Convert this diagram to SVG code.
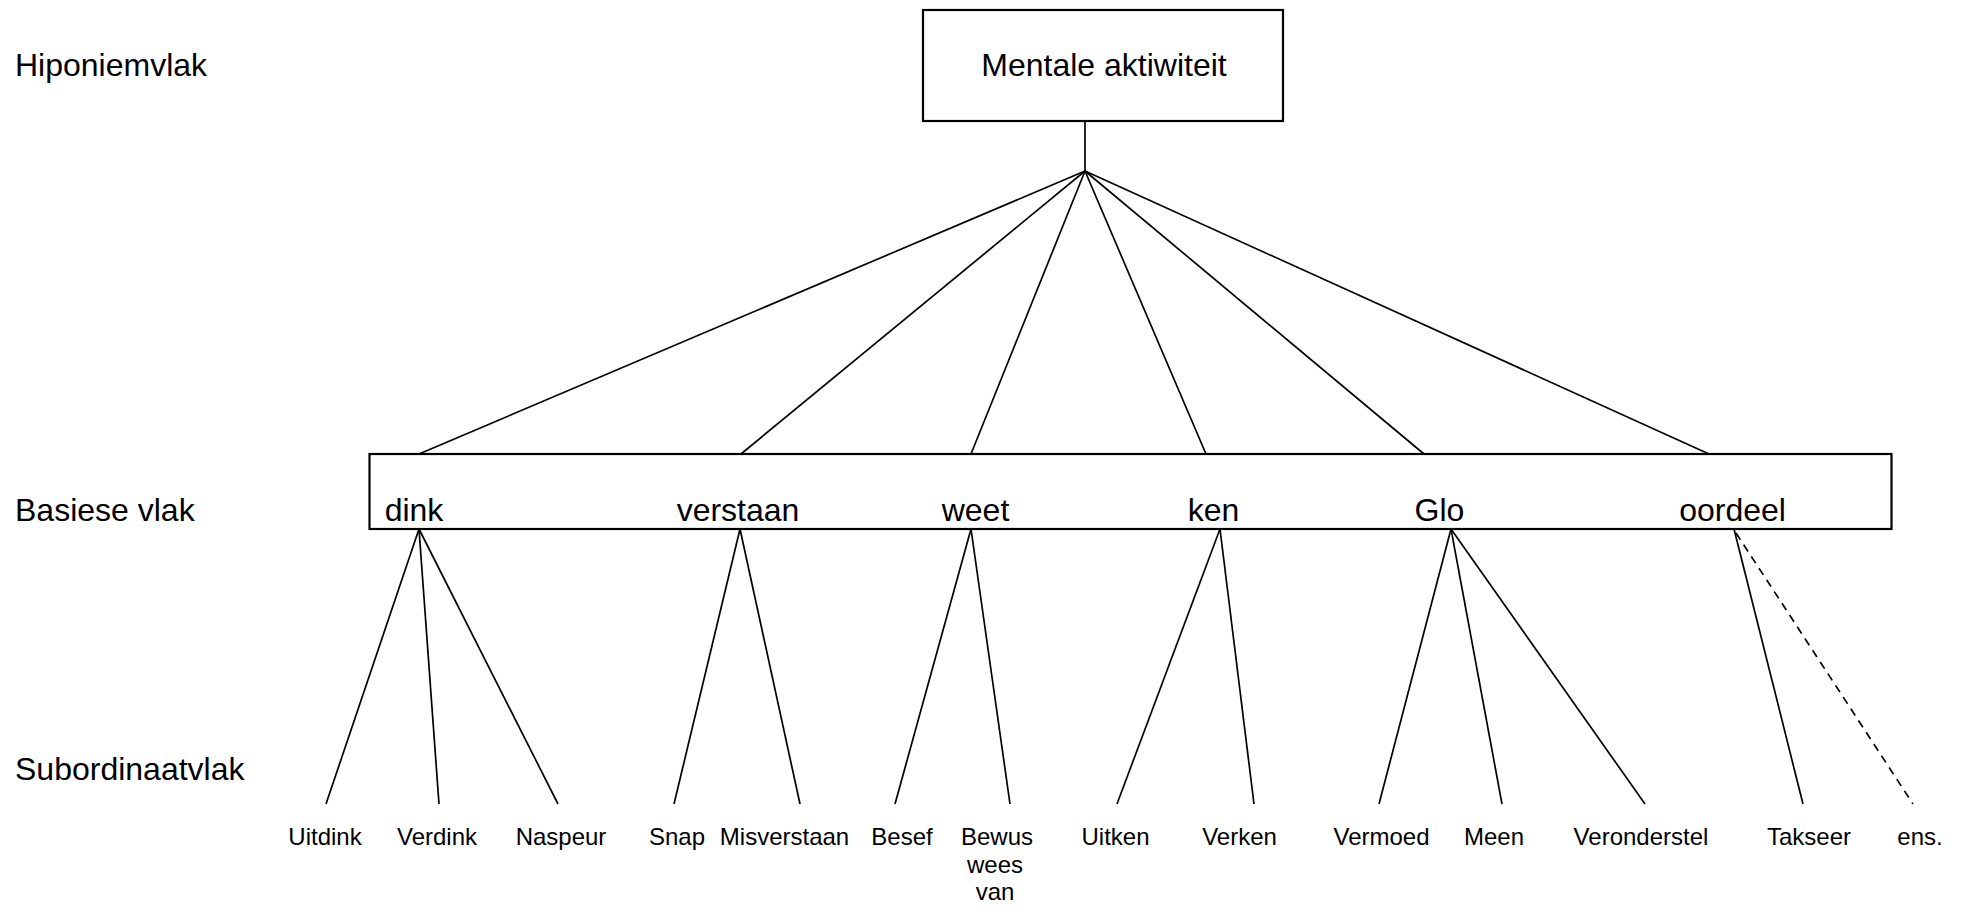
<svg xmlns="http://www.w3.org/2000/svg" width="1964" height="907" viewBox="0 0 1964 907">
  <style>
    .bg { fill: #ffffff; }
    .box { fill: #ffffff; stroke: #000000; stroke-width: 2.2; }
    .lvl { font-family: "Liberation Sans", Arial, sans-serif; font-size: 32px; fill: #000000; }
    .big { font-family: "Liberation Sans", Arial, sans-serif; font-size: 32px; fill: #000000; text-anchor: middle; }
    .small { font-family: "Liberation Sans", Arial, sans-serif; font-size: 24px; fill: #000000; text-anchor: middle; }
    .ln { stroke: #000000; stroke-width: 1.7; fill: none; }
    .dash { stroke: #000000; stroke-width: 1.7; fill: none; stroke-dasharray: 8 6; }
  </style>
  <rect class="bg" x="0" y="0" width="1964" height="907"/>

  <!-- level labels -->
  <g id="levels">
    <text class="lvl" x="15" y="76">Hiponiemvlak</text>
    <text class="lvl" x="15" y="521">Basiese vlak</text>
    <text class="lvl" x="15" y="780">Subordinaatvlak</text>
  </g>

  <!-- connectors -->
  <g id="connectors">
    <line class="ln" x1="1085" y1="119" x2="1085" y2="171"/>
    <line class="ln" x1="1085" y1="171" x2="419" y2="454"/>
    <line class="ln" x1="1085" y1="171" x2="741" y2="454"/>
    <line class="ln" x1="1085" y1="171" x2="971" y2="454"/>
    <line class="ln" x1="1085" y1="171" x2="1206" y2="454"/>
    <line class="ln" x1="1085" y1="171" x2="1424" y2="454"/>
    <line class="ln" x1="1085" y1="171" x2="1709" y2="454"/>

    <line class="ln" x1="419" y1="529" x2="326" y2="804"/>
    <line class="ln" x1="419" y1="529" x2="439" y2="804"/>
    <line class="ln" x1="419" y1="529" x2="558" y2="804"/>

    <line class="ln" x1="740" y1="529" x2="674" y2="804"/>
    <line class="ln" x1="740" y1="529" x2="800" y2="804"/>

    <line class="ln" x1="971" y1="529" x2="895" y2="804"/>
    <line class="ln" x1="971" y1="529" x2="1010" y2="804"/>

    <line class="ln" x1="1220" y1="529" x2="1117" y2="804"/>
    <line class="ln" x1="1220" y1="529" x2="1254" y2="804"/>

    <line class="ln" x1="1451" y1="529" x2="1379" y2="804"/>
    <line class="ln" x1="1451" y1="529" x2="1502" y2="804"/>
    <line class="ln" x1="1451" y1="529" x2="1645" y2="804"/>

    <line class="ln" x1="1734" y1="529" x2="1803" y2="804"/>
    <line class="dash" x1="1736" y1="533" x2="1913" y2="804"/>
  </g>

  <!-- hyponym level -->
  <g id="mentale-aktiwiteit">
    <rect class="box" x="923" y="10" width="360" height="111"/>
    <text class="big" x="1104" y="76">Mentale aktiwiteit</text>
  </g>

  <!-- basic level -->
  <g id="basiese-vlak">
    <rect class="box" x="369.5" y="454" width="1522" height="75"/>
    <text class="big" x="414" y="521">dink</text>
    <text class="big" x="738" y="521">verstaan</text>
    <text class="big" x="975.5" y="521">weet</text>
    <text class="big" x="1213.5" y="521">ken</text>
    <text class="big" x="1439.5" y="521">Glo</text>
    <text class="big" x="1732.5" y="521">oordeel</text>
  </g>

  <!-- subordinate level -->
  <g id="uitdink"><text class="small" x="325" y="845">Uitdink</text></g>
  <g id="verdink"><text class="small" x="437" y="845">Verdink</text></g>
  <g id="naspeur"><text class="small" x="561" y="845">Naspeur</text></g>
  <g id="snap"><text class="small" x="677" y="845">Snap</text></g>
  <g id="misverstaan"><text class="small" x="784.5" y="845">Misverstaan</text></g>
  <g id="besef"><text class="small" x="902" y="845">Besef</text></g>
  <g id="bewus-wees-van">
    <text class="small" x="997" y="845">Bewus</text>
    <text class="small" x="995" y="872.5">wees</text>
    <text class="small" x="995" y="900">van</text>
  </g>
  <g id="uitken"><text class="small" x="1115.5" y="845">Uitken</text></g>
  <g id="verken"><text class="small" x="1239.5" y="845">Verken</text></g>
  <g id="vermoed"><text class="small" x="1381.5" y="845">Vermoed</text></g>
  <g id="meen"><text class="small" x="1494" y="845">Meen</text></g>
  <g id="veronderstel"><text class="small" x="1641" y="845">Veronderstel</text></g>
  <g id="takseer"><text class="small" x="1809" y="845">Takseer</text></g>
  <g id="ens"><text class="small" x="1920" y="845">ens.</text></g>
</svg>
